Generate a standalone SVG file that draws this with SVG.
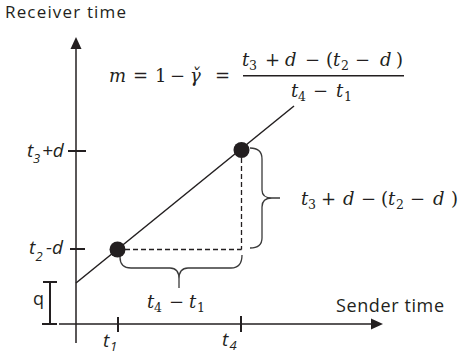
<svg xmlns="http://www.w3.org/2000/svg" width="460" height="354" viewBox="0 0 460 354">
<style>
.ax{stroke:#231f20;stroke-width:1.5;fill:none}
.tick{stroke:#231f20;stroke-width:2;fill:none}
.dash{stroke:#231f20;stroke-width:1.3;fill:none;stroke-dasharray:5 3}
.brace{stroke:#3a3a3a;stroke-width:1.3;fill:none}
.dot{fill:#231f20}
.lbl{font-family:"Open Sans","Noto Sans",sans-serif;fill:#231f20}
.it{font-style:italic}
.m{font-family:"DejaVu Serif","Liberation Serif",serif;font-size:18px;fill:#231f20}
.mi{font-style:italic}
.sub{font-size:12.5px}
</style>
<defs>
<marker id="arr" viewBox="0 0 12 12" refX="0" refY="6" markerWidth="12" markerHeight="12" markerUnits="userSpaceOnUse" orient="auto">
<path d="M0,0.5 L12,6 L0,11.5 z" fill="#231f20"/>
</marker>
</defs>
<g id="connectors">
<line class="ax" x1="76" y1="343" x2="76" y2="49" marker-end="url(#arr)"/>
<line class="ax" x1="59" y1="324" x2="371" y2="324" marker-end="url(#arr)"/>
<line class="ax" x1="76" y1="283" x2="294" y2="106"/>
<line class="dash" x1="125" y1="249.5" x2="241.5" y2="249.5"/>
<line class="dash" x1="241.5" y1="158" x2="241.5" y2="249.5"/>
<path class="tick" d="M68,151 H86 M70,249 H85 M118,317 V332 M241,316 V332"/>
<path class="tick" d="M50,282 V324 M43,282 H57 M42,324 H57"/>
<path class="brace" d="M120,257 Q120,268 131,268 L170,268 Q179,268 179,279 L179,288 M179,279 Q179,268 188,268 L231,268 Q242,268 242,255"/>
<path class="brace" d="M250,148 Q262,148 262,159 L262,190 Q262,198 272,198 L280,198 M272,198 Q262,198 262,207 L262,238 Q262,248 250,248"/>
</g>
<g id="point1"><circle class="dot" cx="117.5" cy="249.5" r="8"/></g>
<g id="point2"><circle class="dot" cx="241.5" cy="150" r="8"/></g>
<g id="axis-labels">
<text class="lbl" x="5" y="18" font-size="17" textLength="121" lengthAdjust="spacing">Receiver time</text>
<text class="lbl" x="336" y="312" font-size="18" textLength="108" lengthAdjust="spacing">Sender time</text>
<text class="lbl it" font-size="19"><tspan x="27" y="157">t</tspan><tspan x="33" y="163" font-size="13">3</tspan><tspan x="42" y="157">+d</tspan></text>
<text class="lbl it" font-size="19"><tspan x="29" y="254">t</tspan><tspan x="35.5" y="261" font-size="13">2</tspan><tspan x="46" y="254">-d</tspan></text>
<text class="lbl" x="33" y="305" font-size="18">q</text>
<text class="lbl it" font-size="19"><tspan x="103" y="347">t</tspan><tspan x="110" y="351" font-size="13">1</tspan></text>
<text class="lbl it" font-size="19"><tspan x="222" y="346">t</tspan><tspan x="229.5" y="350" font-size="13">4</tspan></text>
</g>
<g id="formula">
<text class="m"><tspan class="mi" x="109" y="82">m</tspan><tspan x="133" y="82">=</tspan><tspan x="155" y="82">1</tspan><tspan x="170" y="82">−</tspan><tspan class="mi" x="190" y="82">γ̌</tspan><tspan x="215" y="82">=</tspan></text>
<text class="m"><tspan class="mi" x="242" y="66">t</tspan><tspan class="sub" x="249" y="70">3</tspan><tspan x="265" y="66">+</tspan><tspan class="mi" x="285" y="66">d</tspan><tspan x="305" y="66">−</tspan><tspan x="326" y="66">(</tspan><tspan class="mi" x="333" y="66">t</tspan><tspan class="sub" x="341" y="70">2</tspan><tspan x="355" y="66">−</tspan><tspan class="mi" x="380" y="66">d</tspan><tspan x="396" y="66">)</tspan></text>
<line x1="243" y1="75.7" x2="404" y2="75.7" stroke="#231f20" stroke-width="1.4"/>
<text class="m"><tspan class="mi" x="291" y="97">t</tspan><tspan class="sub" x="298" y="101">4</tspan><tspan x="313" y="97">−</tspan><tspan class="mi" x="336" y="97">t</tspan><tspan class="sub" x="344" y="101">1</tspan></text>
</g>
<g id="brace-labels">
<text class="m"><tspan class="mi" x="147" y="308">t</tspan><tspan class="sub" x="154" y="312">4</tspan><tspan x="169" y="308">−</tspan><tspan class="mi" x="189" y="308">t</tspan><tspan class="sub" x="197" y="312">1</tspan></text>
<text class="m"><tspan class="mi" x="301" y="205">t</tspan><tspan class="sub" x="308" y="209">3</tspan><tspan x="321" y="205">+</tspan><tspan class="mi" x="343" y="205">d</tspan><tspan x="361" y="205">−</tspan><tspan x="381" y="205">(</tspan><tspan class="mi" x="388" y="205">t</tspan><tspan class="sub" x="396" y="209">2</tspan><tspan x="410" y="205">−</tspan><tspan class="mi" x="433" y="205">d</tspan><tspan x="451" y="205">)</tspan></text>
</g>
</svg>
